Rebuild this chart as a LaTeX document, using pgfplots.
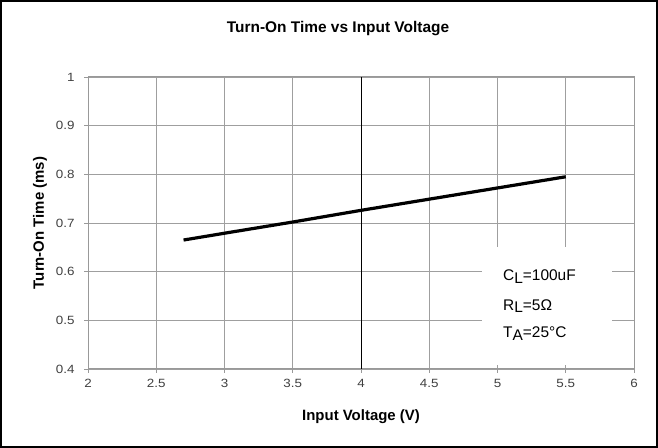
\documentclass[border=0pt]{standalone}
\usepackage{pgfplots}
\pgfplotsset{compat=1.18}
\usepackage{fontspec}
\setmainfont{Liberation Sans}
\newfontfamily\tickfont[FakeStretch=1.12]{Liberation Sans}
\begin{document}
\begin{tikzpicture}[x=1bp,y=1bp]
\useasboundingbox (0,0) rectangle (658,448);
\draw[line width=2.2bp] (1.1,1.1) rectangle (656.9,446.9);
\node[anchor=base, font=\bfseries\fontsize{15.5}{18}\selectfont] at (338,415) {Turn-On Time vs Input Voltage};
\begin{axis}[
  at={(88bp,79bp)}, anchor=south west,
  scale only axis, width=546bp, height=292bp,
  xmin=2, xmax=6, ymin=0.4, ymax=1,
  xtick={2,2.5,...,6}, ytick={0.4,0.5,...,1.0},
  xticklabels={2,2.5,3,3.5,4,4.5,5,5.5,6},
  yticklabels={0.4,0.5,0.6,0.7,0.8,0.9,1},
  grid=major,
  major grid style={draw=gray!75, line width=0.8bp},
  axis line style={draw=gray!80, line width=1bp},
  tick style={draw=gray!80, line width=0.9bp},
  tick align=outside, major tick length=4bp,
  xtick pos=bottom, ytick pos=left,
  /pgf/number format/assume math mode=true,
  ticklabel style={font=\tickfont\fontsize{12}{14}\selectfont, text=black!75},
  xticklabel style={yshift=-3bp},
  yticklabel style={xshift=-6bp},
  xlabel={\bfseries Input Voltage (V)},
  ylabel={\bfseries Turn-On Time (ms)},
  label style={font=\fontsize{15}{18}\selectfont},
  xlabel style={at={(axis description cs:0.5,-0.175)}, anchor=base},
  ylabel style={at={(axis description cs:-0.088,0.5)}, anchor=center},
  clip=false,
]
\addplot[draw=black, line width=1bp, forget plot] coordinates {(4,0.4) (4,1)};
\fill[white] (axis cs:4.89,0.408) rectangle (axis cs:5.84,0.651);
\addplot[black, line width=3.2bp, no marks] coordinates {
(2.7,0.665) (3.0,0.679) (3.5,0.702) (4.0,0.726) (4.5,0.749) (5.0,0.772) (5.5,0.795)
};
\node[anchor=base west, inner sep=0pt, font=\fontsize{15.5}{18}\selectfont] at (axis cs:5.04,0.581) {C\raisebox{-2.5bp}{L}=100uF};
\node[anchor=base west, inner sep=0pt, font=\fontsize{15.5}{18}\selectfont] at (axis cs:5.04,0.521) {R\raisebox{-2.5bp}{L}=5Ω};
\node[anchor=base west, inner sep=0pt, font=\fontsize{15.5}{18}\selectfont] at (axis cs:5.04,0.4637) {T\raisebox{-2.5bp}{A}=25°C};
\end{axis}
\end{tikzpicture}
\end{document}
